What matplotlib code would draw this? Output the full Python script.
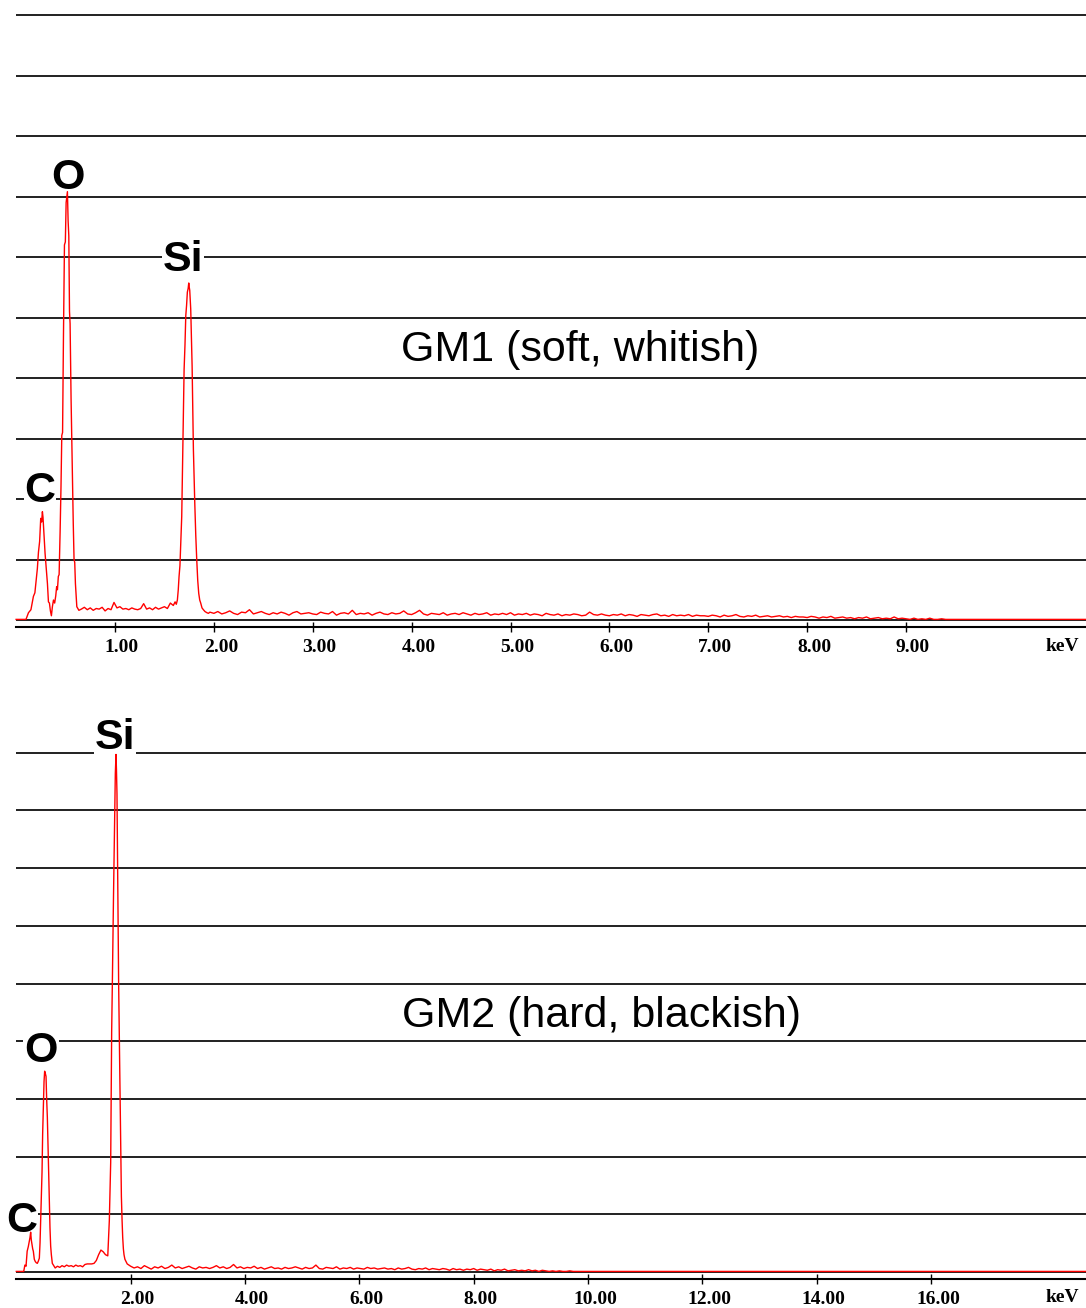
import numpy as np
import matplotlib.pyplot as plt
import matplotlib.transforms as mtransforms

# ---------------- GM1 (soft, whitish) ----------------
# counts are in units of one grid division
gm1_peak_energy = [0.00, 0.10, 0.125, 0.15, 0.175, 0.19, 0.202, 0.215, 0.226, 0.238, 0.249, 0.258,
                   0.266, 0.272, 0.276, 0.285, 0.293, 0.305, 0.317, 0.327, 0.337, 0.347, 0.357, 0.367,
                   0.378, 0.390, 0.401, 0.410, 0.418, 0.427, 0.435, 0.445, 0.454, 0.462, 0.470, 0.479,
                   0.489, 0.498, 0.506, 0.513, 0.519, 0.526, 0.533, 0.540, 0.546, 0.556, 0.563, 0.570,
                   0.578, 0.586, 0.593, 0.600, 0.607, 0.614, 0.625, 0.635]
gm1_peak_counts = [0.01, 0.01, 0.12, 0.17, 0.39, 0.45, 0.65, 0.85, 1.12, 1.30, 1.68, 1.62,
                   1.79, 1.70, 1.58, 1.30, 1.10, 0.85, 0.60, 0.30, 0.28, 0.15, 0.07, 0.22,
                   0.33, 0.28, 0.40, 0.55, 0.50, 0.72, 0.75, 1.45, 2.20, 3.05, 3.10, 4.70,
                   6.20, 6.25, 6.90, 7.00, 7.08, 6.60, 6.35, 5.10, 4.90, 3.65, 3.00, 2.25,
                   1.60, 1.00, 0.95, 0.60, 0.42, 0.22, 0.19, 0.16]
# background between O and Si, channels every 0.03 keV from 0.66 keV
gm1_bg1_start = 0.66
gm1_bg1_step = 0.03
gm1_bg1 = [0.18, 0.21, 0.17, 0.20, 0.16, 0.19, 0.18, 0.21, 0.15, 0.19, 0.17, 0.29, 0.20, 0.22,
           0.18, 0.19, 0.17, 0.20, 0.18, 0.17, 0.19, 0.27, 0.18, 0.20, 0.17, 0.21, 0.18, 0.20,
           0.22, 0.19, 0.28, 0.24]
gm1_si_energy = [1.608, 1.620, 1.631, 1.640, 1.648, 1.657, 1.665, 1.670, 1.675, 1.680, 1.685, 1.692,
                 1.699, 1.708, 1.716, 1.724, 1.732, 1.740, 1.746, 1.751, 1.756, 1.761, 1.766, 1.773,
                 1.780, 1.787, 1.793, 1.800, 1.807, 1.817, 1.827, 1.837, 1.847, 1.857, 1.867, 1.880,
                 1.894, 1.910, 1.930, 1.945]
gm1_si_counts = [0.30, 0.26, 0.33, 0.50, 0.72, 0.90, 1.24, 1.45, 1.71, 2.20, 2.70, 3.30,
                 4.14, 4.55, 5.03, 5.20, 5.42, 5.48, 5.57, 5.50, 5.45, 5.30, 5.14, 4.70,
                 4.20, 3.40, 2.82, 2.35, 1.93, 1.40, 0.99, 0.65, 0.44, 0.33, 0.28, 0.20,
                 0.17, 0.14, 0.12, 0.11]
# background after Si, channels every 0.04 keV from 1.96 keV
gm1_bg2_start = 1.96
gm1_bg2_step = 0.04
gm1_bg2 = [0.13, 0.11, 0.14, 0.10, 0.12, 0.15, 0.11, 0.09, 0.13, 0.12, 0.17, 0.10, 0.12, 0.14, 0.11, 0.09, 0.12, 0.10, 0.13, 0.11, 0.08, 0.12, 0.14, 0.10, 0.11,
           0.12, 0.10, 0.09, 0.13, 0.11, 0.10, 0.14, 0.08, 0.11, 0.12, 0.10, 0.16, 0.09, 0.11, 0.10, 0.12, 0.08, 0.11, 0.13, 0.10, 0.09, 0.12, 0.10, 0.11, 0.15,
           0.10, 0.09, 0.12, 0.16, 0.10, 0.08, 0.11, 0.10, 0.09, 0.12, 0.08, 0.10, 0.11, 0.09, 0.12, 0.10, 0.08, 0.11, 0.09, 0.10, 0.12, 0.08, 0.10, 0.09, 0.11,
           0.09, 0.12, 0.08, 0.10, 0.09, 0.11, 0.08, 0.10, 0.09, 0.07, 0.11, 0.09, 0.08, 0.10, 0.07, 0.09, 0.08, 0.10, 0.09, 0.07, 0.08, 0.13, 0.09, 0.08, 0.10,
           0.08, 0.07, 0.09, 0.08, 0.10, 0.07, 0.09, 0.08, 0.06, 0.09, 0.08, 0.07, 0.09, 0.10, 0.07, 0.08, 0.06, 0.09, 0.07, 0.08, 0.07, 0.09, 0.06, 0.08, 0.07,
           0.07, 0.06, 0.08, 0.07, 0.05, 0.08, 0.06, 0.07, 0.09, 0.06, 0.05, 0.07, 0.06, 0.08, 0.05, 0.06, 0.07, 0.05, 0.06, 0.07, 0.05, 0.06, 0.04, 0.06, 0.05,
           0.05, 0.04, 0.06, 0.05, 0.03, 0.05, 0.04, 0.06, 0.03, 0.04, 0.05, 0.03, 0.04, 0.02, 0.04, 0.03, 0.05, 0.02, 0.03, 0.04, 0.02, 0.03, 0.02, 0.05, 0.02,
           0.03, 0.02, 0.01, 0.03, 0.01, 0.02, 0.01, 0.03, 0.01, 0.01, 0.02, 0.01]
gm1_tail_energy = [10.90]
gm1_tail_counts = [0.01]
gm1_xmax = 10.82
gm1_ticks = [1, 2, 3, 4, 5, 6, 7, 8, 9]
# symbol, energy, height, label hides the grid line behind it
gm1_elements = [("O", 0.525, 7.31, False), ("Si", 1.688, 5.95, True), ("C", 0.242, 2.13, True)]

# ---------------- GM2 (hard, blackish) ----------------
gm2_peak_energy = [0.00, 0.13, 0.15, 0.17, 0.19, 0.21, 0.228, 0.24, 0.251, 0.263, 0.275, 0.287, 0.298,
                   0.315, 0.333, 0.350, 0.368, 0.386, 0.403, 0.415, 0.426, 0.438, 0.450, 0.461, 0.473,
                   0.485, 0.496, 0.508, 0.520, 0.531, 0.543, 0.555, 0.566, 0.578, 0.589, 0.601, 0.613,
                   0.630, 0.648]
gm2_peak_counts = [0.01, 0.01, 0.12, 0.10, 0.36, 0.44, 0.54, 0.60, 0.69, 0.55, 0.48, 0.40, 0.36,
                   0.22, 0.18, 0.16, 0.15, 0.19, 0.24, 0.50, 0.89, 1.30, 1.73, 2.40, 2.86,
                   3.30, 3.48, 3.44, 3.39, 3.00, 2.68, 2.20, 1.73, 1.20, 0.77, 0.45, 0.30,
                   0.15, 0.12]
gm2_bg1_start = 0.68
gm2_bg1_step = 0.04
gm2_bg1 = [0.07, 0.10, 0.08, 0.11, 0.09, 0.12, 0.10, 0.11, 0.09, 0.12, 0.10, 0.11, 0.09, 0.13,
           0.14, 0.14, 0.14, 0.15, 0.20, 0.30, 0.38, 0.35, 0.30, 0.28]
gm2_si_energy = [1.627, 1.651, 1.668, 1.680, 1.691, 1.700, 1.709, 1.720, 1.732, 1.744, 1.752, 1.761,
                 1.770, 1.779, 1.790, 1.802, 1.811, 1.820, 1.829, 1.838, 1.850, 1.861, 1.873, 1.884,
                 1.900, 1.919]
gm2_si_counts = [0.89, 1.90, 4.17, 5.00, 5.90, 6.50, 7.08, 7.90, 8.64, 8.97, 8.70, 8.29,
                 7.20, 5.90, 5.00, 4.11, 3.40, 2.68, 2.00, 1.31, 0.90, 0.60, 0.40, 0.30,
                 0.22, 0.18]
gm2_bg2_start = 1.94
gm2_bg2_step = 0.06
gm2_bg2 = [0.14, 0.10, 0.07, 0.09, 0.06, 0.11, 0.08, 0.05, 0.09, 0.07, 0.10, 0.06, 0.08, 0.12, 0.07, 0.09, 0.06, 0.08, 0.10, 0.07, 0.05, 0.09, 0.07, 0.08, 0.06,
           0.08, 0.11, 0.07, 0.09, 0.06, 0.08, 0.13, 0.07, 0.09, 0.06, 0.08, 0.07, 0.10, 0.06, 0.08, 0.05, 0.07, 0.09, 0.06, 0.07, 0.05, 0.08, 0.06, 0.07, 0.09,
           0.07, 0.05, 0.08, 0.06, 0.07, 0.12, 0.06, 0.05, 0.08, 0.07, 0.06, 0.09, 0.05, 0.07, 0.06, 0.08, 0.05, 0.07, 0.06, 0.05, 0.08, 0.06, 0.07, 0.05, 0.06,
           0.07, 0.05, 0.06, 0.04, 0.07, 0.05, 0.06, 0.08, 0.05, 0.04, 0.06, 0.05, 0.07, 0.04, 0.06, 0.05, 0.04, 0.06, 0.05, 0.03, 0.06, 0.04, 0.05, 0.03, 0.05,
           0.04, 0.06, 0.03, 0.05, 0.04, 0.03, 0.05, 0.02, 0.04, 0.03, 0.05, 0.02, 0.03, 0.04, 0.02, 0.03, 0.02, 0.04, 0.02, 0.03, 0.01, 0.03, 0.02, 0.01, 0.02,
           0.01, 0.02, 0.01, 0.01, 0.02, 0.01, 0.01, 0.01, 0.01, 0.01]
gm2_tail_energy = [18.80]
gm2_tail_counts = [0.01]
gm2_xmax = 18.71
gm2_ticks = [2, 4, 6, 8, 10, 12, 14, 16]
gm2_elements = [("Si", 1.726, 9.26, True), ("O", 0.432, 3.83, True), ("C", 0.10, 0.89, True)]

FIG_W, FIG_H = 1086, 1308
GRID_COLOR = "#202020"
TICK_FONT = dict(family="Liberation Serif", weight="bold", size=14)


def build_spectrum(peak_e, peak_c, bg1_start, bg1_step, bg1, si_e, si_c,
                   bg2_start, bg2_step, bg2, tail_e, tail_c):
    e_bg1 = bg1_start + bg1_step * np.arange(len(bg1))
    e_bg2 = bg2_start + bg2_step * np.arange(len(bg2))
    energy = np.concatenate([peak_e, e_bg1, si_e, e_bg2, tail_e])
    counts = np.concatenate([peak_c, bg1, si_c, bg2, tail_c])
    return energy, counts


def draw_panel(fig, px_left, px_top, px_axis, px_base, px_div, n_grid, xmax,
               energy, counts, ticks, elements, title, title_pos, keV_y):
    left = px_left / FIG_W
    bottom = 1 - px_axis / FIG_H
    width = (FIG_W - px_left) / FIG_W
    height = (px_axis - px_top) / FIG_H
    ax = fig.add_axes([left, bottom, width, height])
    ax.set_xlim(0, xmax)
    ax.set_ylim(-(px_axis - px_base) / px_div, (px_base - px_top) / px_div)

    for i in range(n_grid + 1):
        ax.axhline(i, color=GRID_COLOR, lw=1.4, zorder=1)

    ax.plot(energy, counts, color="#ff0000", lw=1.0, zorder=4, clip_on=False)

    for sym, x, y, boxed in elements:
        box = dict(facecolor="white", edgecolor="none", pad=0.5) if boxed else None
        ax.text(x, y, sym, ha="center", va="center", family="Liberation Sans",
                weight="bold", fontsize=31, zorder=3, clip_on=False, bbox=box)
    ax.text(title_pos[0], title_pos[1], title, ha="center", va="center",
            family="Liberation Sans", fontsize=31, zorder=3)

    for side in ["top", "left", "right"]:
        ax.spines[side].set_visible(False)
    ax.spines["bottom"].set_linewidth(1.5)
    ax.set_yticks([])
    ax.set_xticks(ticks)
    ax.set_xticklabels(["%.2f" % t for t in ticks])
    ax.tick_params(axis="x", direction="inout", length=7, width=1.0, pad=5.5)
    offset = mtransforms.ScaledTranslation(0.07, 0, fig.dpi_scale_trans)
    for lab in ax.get_xticklabels():
        lab.set_fontproperties(TICK_FONT)
        lab.set_transform(lab.get_transform() + offset)
    fig.text(1062 / FIG_W, 1 - keV_y / FIG_H, "keV", ha="center", va="center", **TICK_FONT)
    return ax


fig = plt.figure(figsize=(10.86, 13.08), dpi=100)

e1, c1 = build_spectrum(gm1_peak_energy, gm1_peak_counts, gm1_bg1_start, gm1_bg1_step, gm1_bg1,
                        gm1_si_energy, gm1_si_counts, gm1_bg2_start, gm1_bg2_step, gm1_bg2,
                        gm1_tail_energy, gm1_tail_counts)
draw_panel(fig, 16.1, 10, 627, 620, 60.5, 10, gm1_xmax, e1, c1, gm1_ticks, gm1_elements,
           "GM1 (soft, whitish)", (5.70, 4.46), 647)

e2, c2 = build_spectrum(gm2_peak_energy, gm2_peak_counts, gm2_bg1_start, gm2_bg1_step, gm2_bg1,
                        gm2_si_energy, gm2_si_counts, gm2_bg2_start, gm2_bg2_step, gm2_bg2,
                        gm2_tail_energy, gm2_tail_counts)
draw_panel(fig, 16.3, 700, 1279, 1272, 57.7, 9, gm2_xmax, e2, c2, gm2_ticks, gm2_elements,
           "GM2 (hard, blackish)", (10.23, 4.44), 1298)

fig.savefig("out.png", dpi=100, facecolor="white")
